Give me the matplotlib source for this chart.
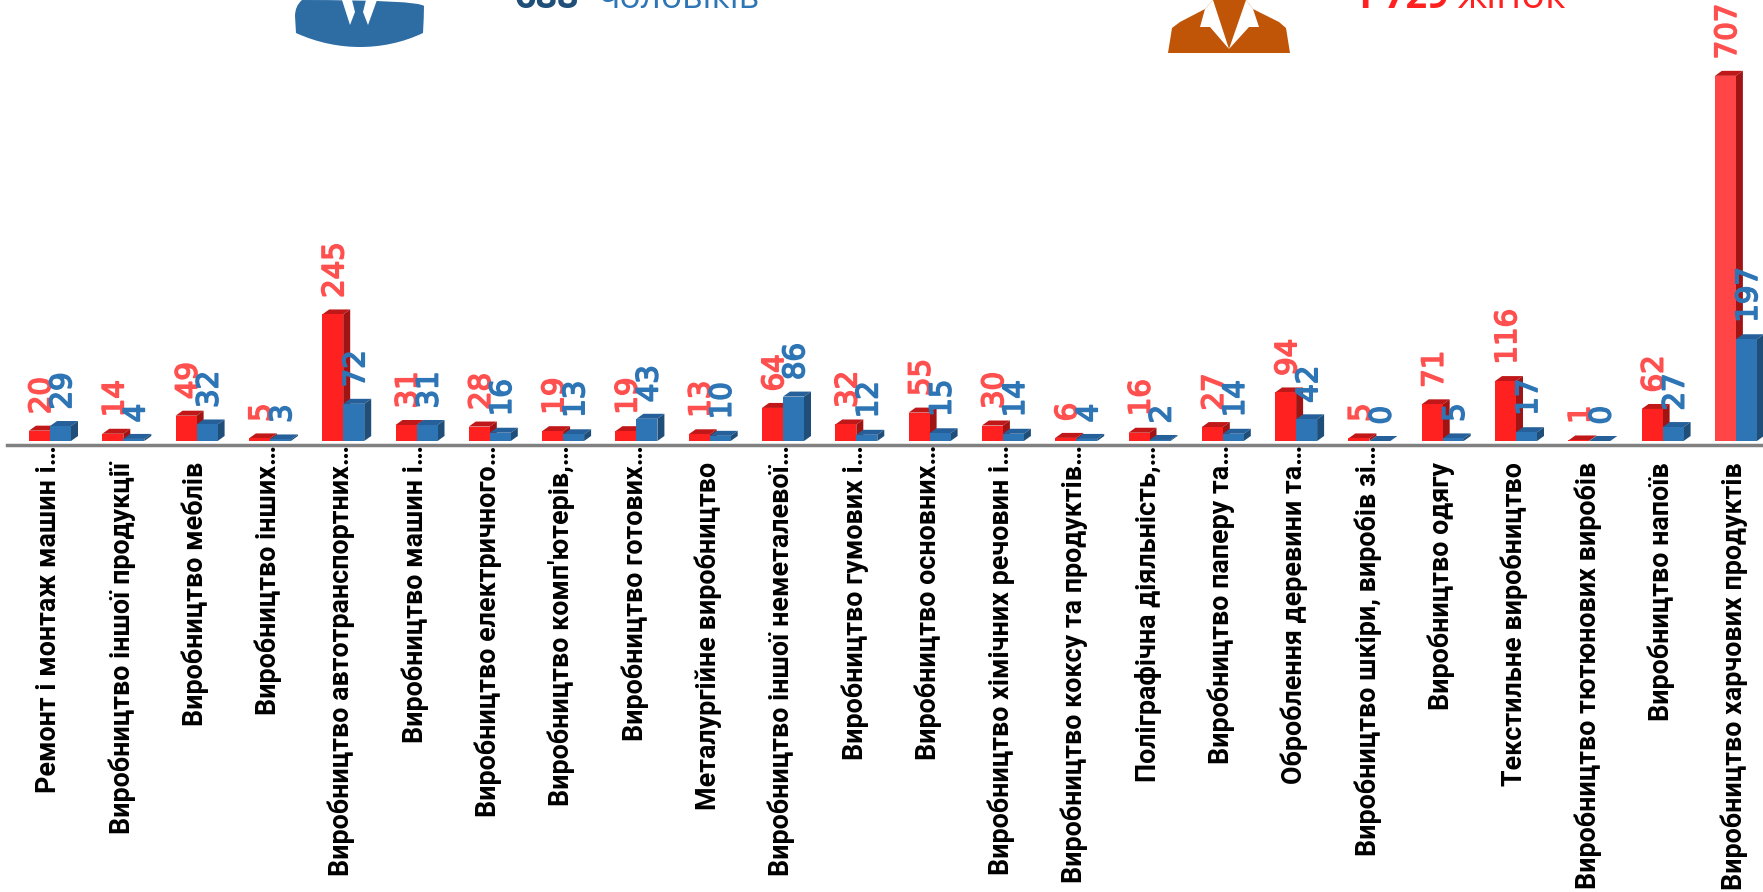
import matplotlib
matplotlib.use('Agg')
import matplotlib.pyplot as plt
import matplotlib.patheffects as pe
from matplotlib.patches import Polygon, PathPatch
from matplotlib.path import Path

# Data for plotting
categories = ["Ремонт і монтаж машин і…", "Виробництво іншої продукції", "Виробництво меблів",
              "Виробництво інших…", "Виробництво автотранспортних…", "Виробництво машин і…",
              "Виробництво електричного…", "Виробництво комп'ютерів,…", "Виробництво готових…",
              "Металургійне виробництво", "Виробництво іншої неметалевої…", "Виробництво гумових і…",
              "Виробництво основних…", "Виробництво хімічних речовин і…", "Виробництво коксу та продуктів…",
              "Поліграфічна діяльність,…", "Виробництво паперу та…", "Оброблення деревини та…",
              "Виробництво шкіри, виробів зі…", "Виробництво одягу", "Текстильне виробництво",
              "Виробництво тютюнових виробів", "Виробництво напоїв", "Виробництво харчових продуктів"]
women = [20, 14, 49, 5, 245, 31, 28, 19, 19, 13, 64, 32, 55, 30, 6, 16, 27, 94, 5, 71, 116, 1, 62, 707]
men = [29, 4, 32, 3, 72, 31, 16, 13, 43, 10, 86, 12, 15, 14, 4, 2, 14, 42, 0, 5, 17, 0, 27, 197]

W, H = 1763, 892
RED, RED_TOP, RED_SIDE = '#ff2020', '#c01818', '#a01414'
BLUE, BLUE_TOP, BLUE_SIDE = '#2e75b6', '#25609a', '#1f4e79'
LAST_RED = '#ff4545'
LABEL_RED, LABEL_BLUE = '#ff5050', '#2e75b6'

fig = plt.figure(figsize=(W / 100, H / 100), dpi=100)

# px: 1 category = 73.3 px, 1 unit = 0.5165 px, baseline at y=441
ax = fig.add_axes([0, 0, 1, 1])
x0 = 50.0
sp = 73.3
uy = 0.5165
ax.set_xlim(-x0 / sp, (W - x0) / sp)
ax.set_ylim(-(H - 441) / uy, 441 / uy)
ax.axis('off')

bw = 21 / sp
dx = 7 / sp
dy = 5 / uy


def bar3d(x, v, face, top, side):
    ax.bar(x, v, bw, align='edge', color=face, linewidth=0, zorder=3)
    ax.add_patch(Polygon([(x, v), (x + bw, v), (x + bw + dx, v + dy), (x + dx, v + dy)], fc=top, lw=0, zorder=2))
    ax.add_patch(Polygon([(x + bw, 0), (x + bw + dx, dy), (x + bw + dx, v + dy), (x + bw, v)], fc=side, lw=0, zorder=2))


def value_label(x, v, color):
    ax.text(x + 0.035, v + 32, str(v), rotation=90, ha='center', va='bottom', color=color, fontsize=21,
            family='DejaVu Sans', zorder=5,
            path_effects=[pe.withStroke(linewidth=1.2, foreground=color)])


for i in range(len(categories)):
    bar3d(i - bw, women[i], LAST_RED if i == 23 else RED, RED_TOP, RED_SIDE)
    bar3d(i, men[i], BLUE, BLUE_TOP, BLUE_SIDE)
    value_label(i - bw / 2, women[i], LABEL_RED)
    value_label(i + bw / 2, men[i], LABEL_BLUE)
    # truncated labels run up to the axis line, the others stop below it
    top = -8 if categories[i].endswith('…') else -41
    ax.text(i - 0.02, top, categories[i], rotation=90, ha='center', va='top',
            fontsize=19.4, fontweight='bold', family='Roboto', color='black')

ax.axhline(-8, xmin=7 / W, color='#808080', lw=2.5, zorder=1)

# Overlay in pixel coordinates for the icons and header texts
ov = fig.add_axes([0, 0, 1, 1])
ov.set_xlim(0, W)
ov.set_ylim(H, 0)
ov.axis('off')
ov.patch.set_alpha(0)

# man icon
man = Path([(302, 0), (295, 6), (295, 16), (296, 33), (318, 43), (340, 47), (360, 47), (380, 47), (402, 43),
            (423, 33), (424, 16), (424, 6), (418, 0), (302, 0)],
           [Path.MOVETO, Path.CURVE3, Path.CURVE3, Path.LINETO, Path.CURVE4, Path.CURVE4, Path.CURVE4,
            Path.CURVE4, Path.CURVE4, Path.CURVE4, Path.CURVE3, Path.CURVE3, Path.CURVE3, Path.CLOSEPOLY])
ov.add_patch(PathPatch(man, fc='#2e6da4', lw=0))
ov.add_patch(Polygon([(342, 0), (350, 25), (355, 12), (352, 0)], fc='white', lw=0))
ov.add_patch(Polygon([(377, 0), (368, 25), (363, 12), (366, 0)], fc='white', lw=0))

# woman icon
ov.add_patch(Polygon([(1168, 53), (1172, 28), (1180, 22), (1205, 9), (1213, 0), (1246, 0), (1253, 9), (1279, 22),
                      (1286, 28), (1290, 53)], fc='#c05508', lw=0))
ov.add_patch(Polygon([(1205, 9), (1200, 27), (1210, 27), (1229, 49), (1213, 0)], fc='white', lw=0))
ov.add_patch(Polygon([(1253, 9), (1259, 27), (1249, 27), (1229, 49), (1246, 0)], fc='white', lw=0))

ov.text(515, 8, '688', color='#1f4e79', fontsize=27, fontweight='bold', family='Open Sans', va='baseline')
ov.text(598, 8, 'чоловіків', color='#2e75b6', fontsize=25.5, family='Open Sans', va='baseline')
ov.text(1353, 8, '1 729', color='#ff2020', fontsize=27, fontweight='bold', family='Open Sans', va='baseline')
ov.text(1458, 8, 'жінок', color='#ff2020', fontsize=28.5, family='Open Sans', va='baseline')

fig.savefig('out.png', dpi=100)
